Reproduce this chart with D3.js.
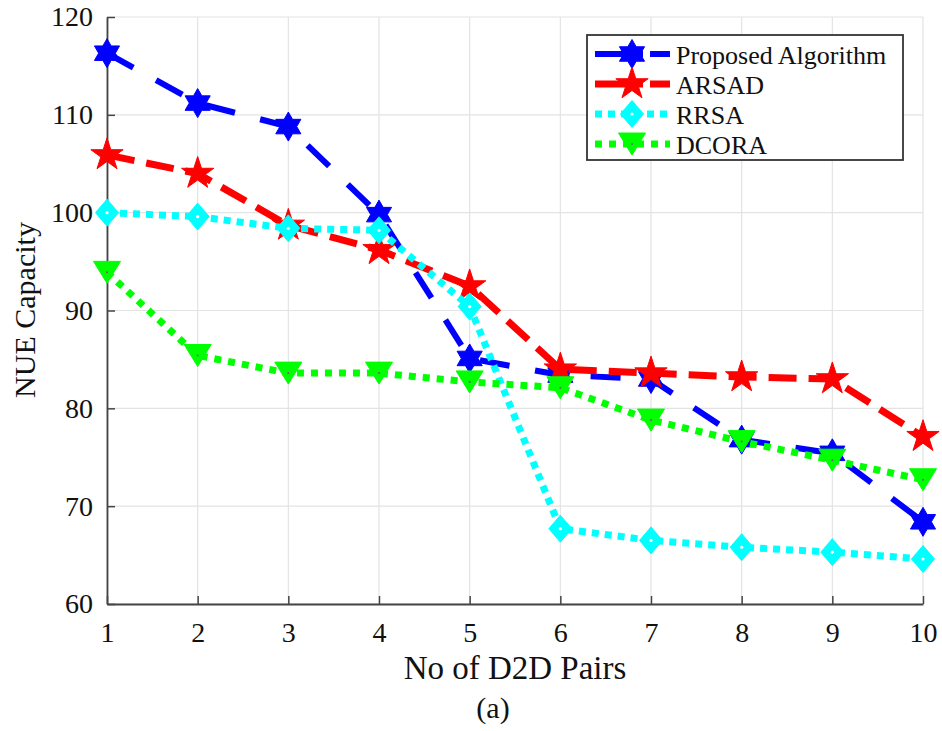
<!DOCTYPE html>
<html>
<head>
<meta charset="utf-8">
<script src="https://cdn.jsdelivr.net/npm/d3@7/dist/d3.min.js"></script>
<style>
  html, body { margin: 0; padding: 0; background: #fff; }
  svg text { font-family: "Liberation Serif", "Times New Roman", serif; fill: #111; }
</style>
</head>
<body>
<svg id="chart" width="942" height="731"></svg>
<script>
// D2D pair counts on the x axis
const pairs = [1, 2, 3, 4, 5, 6, 7, 8, 9, 10];

// NUE capacity per algorithm
const proposed = [116.3, 111.2, 108.8, 99.8, 85.1, 83.4, 83.0, 76.8, 75.4, 68.4];
const arsad    = [105.9, 104.0, 98.7, 96.2, 92.5, 84.0, 83.6, 83.2, 83.0, 77.1];
const rrsa     = [100.0, 99.6, 98.4, 98.2, 90.4, 67.7, 66.5, 65.8, 65.3, 64.6];
const dcora    = [93.9, 85.4, 83.6, 83.6, 82.7, 82.1, 78.8, 76.6, 74.7, 72.7];

const seriesNames = ["Proposed Algorithm", "ARSAD", "RRSA", "DCORA"];
const yTicks = [60, 70, 80, 90, 100, 110, 120];

const series = [
  { name: seriesNames[0], values: proposed, color: "#0000ff", width: 6, dash: "30,26", marker: "hexagram" },
  { name: seriesNames[1], values: arsad,    color: "#ff0000", width: 7, dash: "28,12", marker: "star" },
  { name: seriesNames[2], values: rrsa,     color: "#00ffff", width: 7, dash: "7,6",   marker: "diamond" },
  { name: seriesNames[3], values: dcora,    color: "#00ff00", width: 7, dash: "7,7",   marker: "triangle" }
];

const svg = d3.select("#chart");
const plotLeft = 107, plotRight = 923, plotTop = 17, plotBottom = 604;

const x = d3.scaleLinear().domain([1, 10]).range([plotLeft, plotRight]);
const y = d3.scaleLinear().domain([60, 120]).range([plotBottom, plotTop]);

// grid
const grid = svg.append("g");
grid.selectAll("line.gx").data(pairs).join("line")
  .attr("x1", d => x(d)).attr("x2", d => x(d))
  .attr("y1", plotTop).attr("y2", plotBottom)
  .attr("stroke", "#e3e3e3").attr("stroke-width", 1.2);
grid.selectAll("line.gy").data(yTicks).join("line")
  .attr("x1", plotLeft).attr("x2", plotRight)
  .attr("y1", d => y(d)).attr("y2", d => y(d))
  .attr("stroke", "#e3e3e3").attr("stroke-width", 1.2);

// axes, ticks pointing inward
const xAxis = d3.axisBottom(x).tickValues(pairs).tickFormat(d3.format("d"))
  .tickSizeInner(-8).tickSizeOuter(0).tickPadding(18);
const yAxis = d3.axisLeft(y).tickValues(yTicks).tickFormat(d3.format("d"))
  .tickSizeInner(-8).tickSizeOuter(0).tickPadding(14);

const gx = svg.append("g").attr("transform", `translate(0,${plotBottom})`).call(xAxis);
const gy = svg.append("g").attr("transform", `translate(${plotLeft},0)`).call(yAxis);
[gx, gy].forEach(g => {
  g.select(".domain").attr("stroke", "#444").attr("stroke-width", 1.8);
  g.selectAll(".tick line").attr("stroke", "#444").attr("stroke-width", 1.5);
  g.selectAll(".tick text").attr("font-size", 28).attr("fill", "#111")
    .style("font-family", '"Liberation Serif", "Times New Roman", serif');
});

// axis titles
svg.append("text").attr("x", 515).attr("y", 679).attr("text-anchor", "middle")
  .attr("font-size", 33).text("No of D2D Pairs");
svg.append("text").attr("x", 493).attr("y", 718).attr("text-anchor", "middle")
  .attr("font-size", 30).text("(a)");
svg.append("text").attr("transform", "translate(35,310) rotate(-90)")
  .attr("text-anchor", "middle").attr("font-size", 30).text("NUE Capacity");

// marker shapes
function starPath(points, rOut, rIn) {
  const p = d3.path();
  for (let i = 0; i < points * 2; i++) {
    const r = i % 2 === 0 ? rOut : rIn;
    const a = -Math.PI / 2 + i * Math.PI / points;
    const px = r * Math.cos(a), py = r * Math.sin(a);
    if (i === 0) p.moveTo(px, py); else p.lineTo(px, py);
  }
  p.closePath();
  return p.toString();
}
const markerPaths = {
  hexagram: starPath(6, 14.5, 14.5 / Math.sqrt(3)),
  star: starPath(5, 17, 17 * 0.382),
  diamond: "M0,-13.5L11.5,0L0,13.5L-11.5,0Z",
  triangle: "M-13.5,-11L13.5,-11L0,11Z"
};
function drawMarker(g, s, cx, cy) {
  g.append("path").attr("d", markerPaths[s.marker])
    .attr("transform", `translate(${cx},${cy})`)
    .attr("fill", s.color).attr("stroke", s.color).attr("stroke-width", 1);
  if (s.marker === "diamond") {
    g.append("circle").attr("cx", cx).attr("cy", cy).attr("r", 1.6).attr("fill", "#fff");
  } else if (s.marker === "triangle") {
    g.append("circle").attr("cx", cx).attr("cy", cy).attr("r", 1.1).attr("fill", "#6a6a6a");
  }
}

// series lines and markers
const line = d3.line().x((d, i) => x(pairs[i])).y(d => y(d));
series.forEach(s => {
  const g = svg.append("g");
  g.append("path").datum(s.values).attr("d", line)
    .attr("fill", "none").attr("stroke", s.color).attr("stroke-width", s.width)
    .attr("stroke-dasharray", s.dash);
  s.values.forEach((v, i) => drawMarker(g, s, x(pairs[i]), y(v)));
});

// legend
const lg = svg.append("g");
lg.append("rect").attr("x", 587).attr("y", 35).attr("width", 316).attr("height", 125)
  .attr("fill", "#fff").attr("stroke", "#333").attr("stroke-width", 1.8);
const rowY = [54, 84, 114, 144];
series.forEach((s, i) => {
  const cy = rowY[i];
  lg.append("line").attr("x1", 595).attr("x2", 670).attr("y1", cy).attr("y2", cy)
    .attr("stroke", s.color).attr("stroke-width", s.width)
    .attr("stroke-dasharray", s.marker === "hexagram" || s.marker === "star" ? "48,7,30" : s.dash);
  drawMarker(lg, s, 632, cy);
  lg.append("text").attr("x", 676).attr("y", cy + 10).attr("font-size", 26).text(s.name);
});
</script>
</body>
</html>
